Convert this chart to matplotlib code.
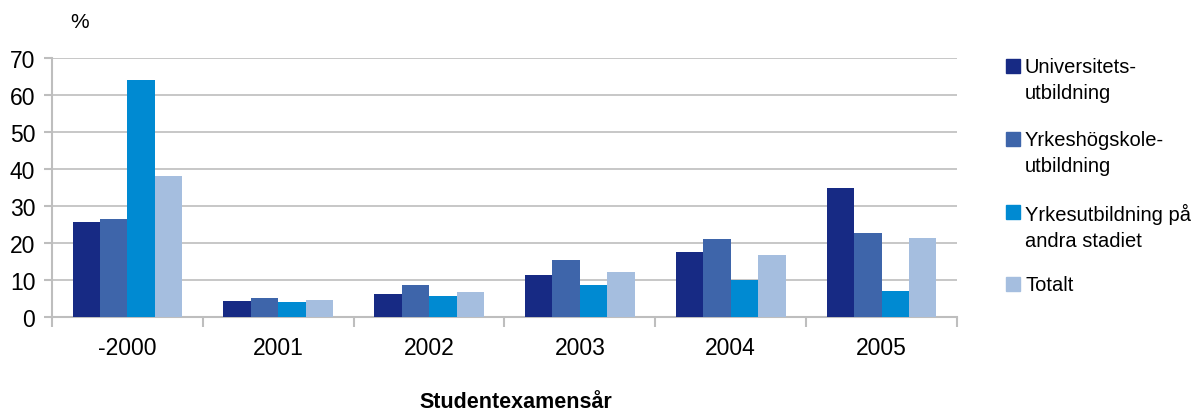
import numpy as np
import matplotlib
matplotlib.use('Agg')
import matplotlib.pyplot as plt
from matplotlib.patches import Rectangle

# Data
years = ['-2000', '2001', '2002', '2003', '2004', '2005']
series_names = ['Universitets-\nutbildning', 'Yrkeshögskole-\nutbildning',
                'Yrkesutbildning på\nandra stadiet', 'Totalt']
universitet = [25.8, 4.4, 6.1, 11.4, 17.6, 34.9]
yrkeshogskola = [26.6, 5.2, 8.7, 15.5, 21.2, 22.8]
yrkesutbildning = [64.1, 4.1, 5.8, 8.7, 10.1, 7.1]
totalt = [38.2, 4.7, 6.8, 12.2, 16.8, 21.4]
colors = ['#172A84', '#3E65AA', '#008AD2', '#A5BEDF']

plt.rcParams['font.family'] = ['Liberation Sans', 'DejaVu Sans']

W, H = 1197, 414
fig = plt.figure(figsize=(W / 100, H / 100), dpi=100)
ax = fig.add_axes([52 / W, 1 - 318 / H, (957 - 52) / W, (318 - 59) / H])

x = np.arange(len(years))
width = 0.182
all_series = [universitet, yrkeshogskola, yrkesutbildning, totalt]
for i, (vals, col) in enumerate(zip(all_series, colors)):
    ax.bar(x + (i - 1.5) * width, vals, width, color=col, zorder=3)

ax.set_xlim(-0.5, len(years) - 0.5)
ax.set_ylim(0, 70)
ax.set_yticks(range(0, 71, 10))
ax.yaxis.grid(True, color='#BEBEBE', linewidth=1.2, zorder=0)

# category labels centered, tick marks on category boundaries
ax.set_xticks(x)
ax.set_xticklabels(years, fontsize=16.5)
ax.tick_params(axis='x', length=0, pad=14)
ax.set_xticks(np.arange(-0.5, len(years)), minor=True)
ax.tick_params(axis='x', which='minor', length=7, color='#BEBEBE', width=1.5)
ax.tick_params(axis='y', length=6, color='#BEBEBE', width=1.5, labelsize=16.5, pad=6)

for side in ['top', 'right']:
    ax.spines[side].set_visible(False)
for side in ['left', 'bottom']:
    ax.spines[side].set_color('#BEBEBE')
    ax.spines[side].set_linewidth(1.5)

fig.text(70 / W, 1 - 22 / H, '%', fontsize=15, va='center', ha='left')
fig.text(516 / W, 1 - 403 / H, 'Studentexamensår', fontsize=15.5,
         fontweight='bold', ha='center', va='center')

# legend: square next to first line of each entry
legend_y = [67, 140, 213, 285]
for name, col, ly in zip(series_names, colors, legend_y):
    fig.patches.append(Rectangle((1006 / W, 1 - (ly + 7) / H), 14 / W, 14 / H,
                                 transform=fig.transFigure, color=col))
    fig.text(1025 / W, 1 - (ly - 9) / H, name, fontsize=14.5, ha='left',
             va='top', linespacing=1.45)

fig.savefig('out.png', dpi=100)
plt.close(fig)
